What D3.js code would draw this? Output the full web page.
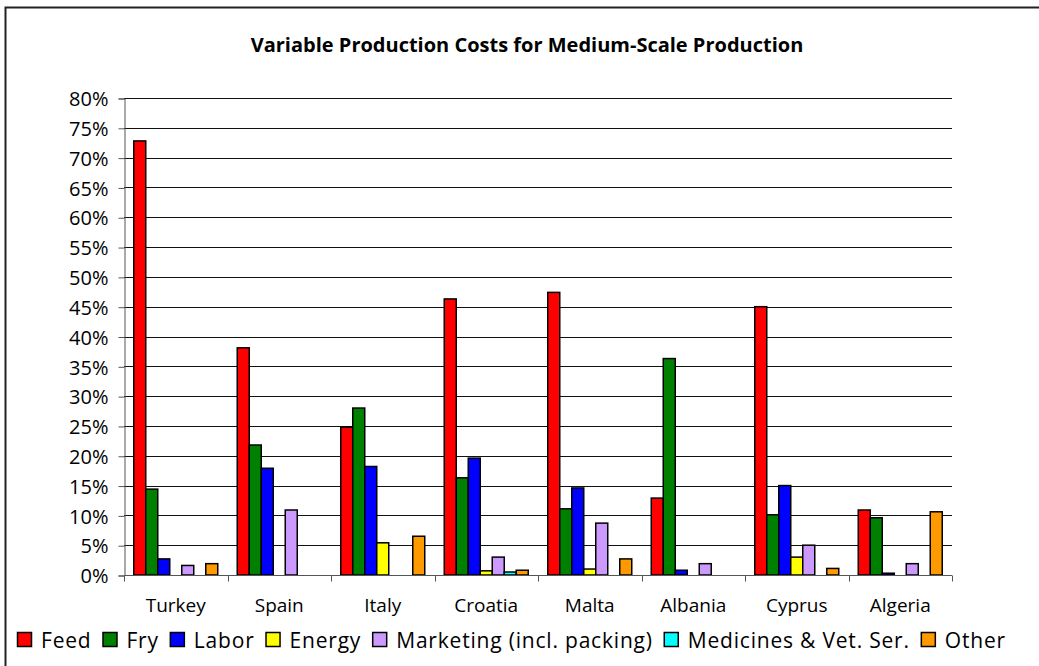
<!DOCTYPE html>
<html><head><meta charset="utf-8">
<script src="https://cdn.jsdelivr.net/npm/d3@7"></script>
<style>
html,body{margin:0;padding:0;background:#fff;}
svg{display:block;}
text{font-family:"Open Sans","Noto Sans",sans-serif;fill:#000;}
</style></head>
<body><svg id="c" width="1039" height="666"></svg>
<script>
const title = "Variable Production Costs for Medium-Scale Production";
const countries = ["Turkey","Spain","Italy","Croatia","Malta","Albania","Cyprus","Algeria"];
const seriesNames = ["Feed","Fry","Labor","Energy","Marketing (incl. packing)","Medicines & Vet. Ser.","Other"];
const seriesColors = ["#FF0000","#008000","#0000FF","#FFFF00","#CC99FF","#00FFFF","#FF9900"];
const feed      = [72.8, 38.1, 24.8, 46.3, 47.4, 12.9, 45.0, 10.9];
const fry       = [14.4, 21.8, 28.0, 16.3, 11.1, 36.3, 10.1,  9.6];
const labor     = [ 2.7, 17.9, 18.2, 19.6, 14.6,  0.8, 15.0,  0.3];
const energy    = [ 0,    0,    5.4,  0.7,  1.0,  0,    3.0,  0  ];
const marketing = [ 1.6, 10.9,  0,    3.0,  8.7,  1.9,  5.0,  1.9];
const medicines = [ 0,    0,    0,    0.5,  0,    0,    0,    0  ];
const other     = [ 1.9,  0,    6.5,  0.8,  2.7,  0,    1.1, 10.6];
const yTicks = [0,5,10,15,20,25,30,35,40,45,50,55,60,65,70,75,80];

const series = [feed, fry, labor, energy, marketing, medicines, other];
const svg = d3.select("#c");

// outer frame (clipped on right/bottom)
svg.append("rect").attr("x",5.5).attr("y",7.5).attr("width",1100).attr("height",700)
  .attr("fill","none").attr("stroke","#222").attr("stroke-width",2);

const pL = 124, pR = 952, pT = 98, pB = 575;
const x0 = d3.scaleBand().domain(countries).range([pL,pR]).padding(0);
const x1 = d3.scaleBand().domain(d3.range(seriesNames.length)).range([0,x0.bandwidth()]).paddingInner(0).paddingOuter(0.8125);
const y = d3.scaleLinear().domain([0,80]).range([pB,pT]);

// title
svg.append("text").attr("x",527).attr("y",52).attr("text-anchor","middle")
  .attr("font-weight","bold").attr("font-size",20).text(title);

// gridlines
svg.append("g").selectAll("line").data(yTicks.filter(d=>d>0)).join("line")
  .attr("x1",pL).attr("x2",pR)
  .attr("y1",d=>Math.round(y(d))+0.5).attr("y2",d=>Math.round(y(d))+0.5)
  .attr("stroke","#111").attr("stroke-width",1);

// y axis
const yAxis = d3.axisLeft(y).tickValues(yTicks).tickFormat(d=>d+"%").tickSize(6).tickPadding(10);
const gy = svg.append("g").attr("transform",`translate(${pL+0.5},0.5)`).call(yAxis);
gy.select(".domain").attr("stroke","#555");
gy.selectAll(".tick line").attr("stroke","#555");
gy.selectAll(".tick text").attr("font-size",20).attr("font-family",'"Open Sans",sans-serif').attr("fill","#000").attr("dy","0.36em");

// bars
const groups = svg.append("g").selectAll("g").data(countries).join("g")
  .attr("transform",d=>`translate(${x0(d)},0)`);
groups.selectAll("rect").data((c,ci)=>series.map((s,si)=>({si, v:s[ci]})).filter(d=>d.v>0)).join("rect")
  .attr("x",d=>x1(d.si)).attr("width",x1.bandwidth())
  .attr("y",d=>y(d.v)).attr("height",d=>y(0)-y(d.v))
  .attr("fill",d=>seriesColors[d.si]).attr("stroke","#000").attr("stroke-width",1.5);

// x axis
const xAxisG = svg.append("g").attr("transform",`translate(0,${pB+0.5})`);
xAxisG.append("line").attr("x1",pL).attr("x2",pR).attr("stroke","#555");
xAxisG.selectAll("line.tk").data(d3.range(countries.length+1)).join("line").attr("class","tk")
  .attr("x1",i=>Math.round(pL+i*x0.step())+0.5).attr("x2",i=>Math.round(pL+i*x0.step())+0.5)
  .attr("y1",0).attr("y2",6).attr("stroke","#555");
svg.append("g").selectAll("text").data(countries).join("text")
  .attr("x",d=>x0(d)+x0.bandwidth()/2).attr("y",612).attr("text-anchor","middle")
  .attr("font-size",19).text(d=>d);

// legend
const lg = svg.append("g").attr("transform","translate(17,0)");
let cx = 0;
seriesNames.forEach((n,i)=>{
  lg.append("rect").attr("x",cx+0.5).attr("y",632.5).attr("width",14).attr("height",14)
    .attr("fill",seriesColors[i]).attr("stroke","#000").attr("stroke-width",1.5);
  const t = lg.append("text").attr("x",cx+24).attr("y",648).attr("font-size",21)
    .attr("letter-spacing",0.8).text(n);
  const w = t.node().getComputedTextLength();
  cx += 24 + w + 11;
});
</script></body></html>
